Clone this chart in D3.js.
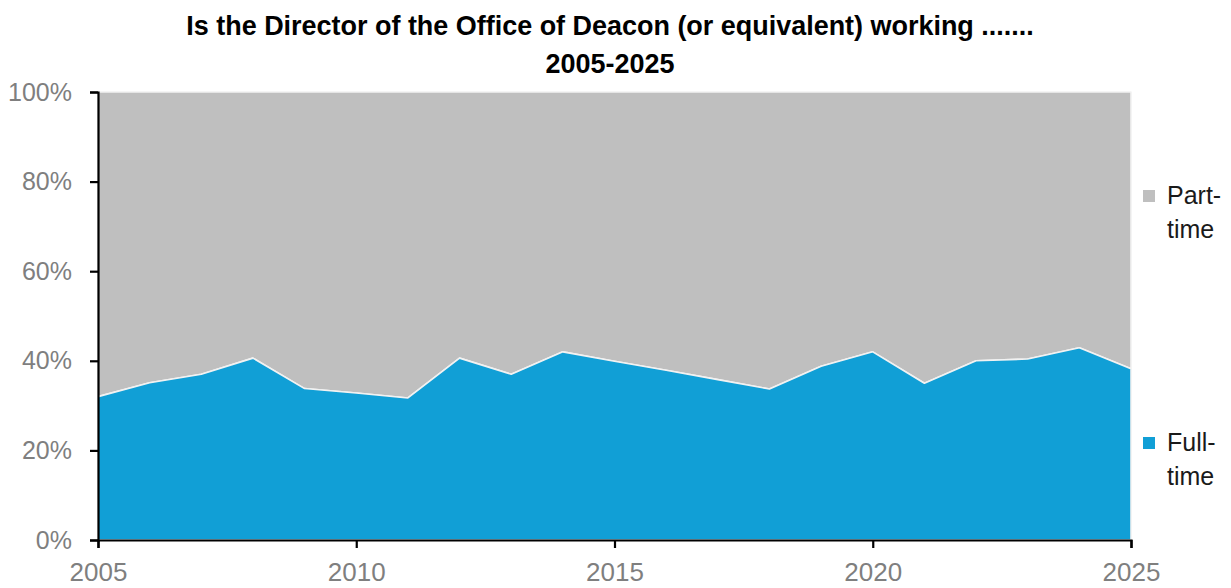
<!DOCTYPE html>
<html>
<head>
<meta charset="utf-8">
<script src="https://cdn.jsdelivr.net/npm/d3@7"></script>
<style>
  html, body { margin: 0; padding: 0; background: #ffffff; }
  svg { display: block; }
</style>
</head>
<body>
<svg id="chart" width="1231" height="588"></svg>
<script>
// Survey years and share of Directors working full-time (%)
const years = [2005, 2006, 2007, 2008, 2009, 2010, 2011, 2012, 2013, 2014, 2015,
               2016, 2017, 2018, 2019, 2020, 2021, 2022, 2023, 2024, 2025];
const fullTime = [32.0, 35.1, 37.0, 40.6, 33.8, 32.8, 31.7, 40.6, 37.0, 42.0, 39.9,
                  37.9, 35.8, 33.7, 38.8, 42.0, 35.0, 40.0, 40.4, 42.9, 38.2];
const partTime = fullTime.map(v => 100 - v);
const seriesNames = ["Full-time", "Part-time"];
const seriesColors = ["#119fd6", "#bfbfbf"];
const yTicks = [0, 20, 40, 60, 80, 100];
const xTicks = [2005, 2010, 2015, 2020, 2025];
const titleLines = ["Is the Director of the Office of Deacon (or equivalent) working .......", "2005-2025"];

const svg = d3.select("#chart");
const margin = { left: 98, right: 100, top: 92, bottom: 48 };
const W = 1231, H = 588;

const x = d3.scaleLinear().domain([2005, 2025]).range([margin.left, W - margin.right]);
const y = d3.scaleLinear().domain([0, 100]).range([H - margin.bottom, margin.top]);

// stack the two series so they fill to 100%
const rows = years.map((yr, i) => ({ year: yr, "Full-time": fullTime[i], "Part-time": partTime[i] }));
const stacked = d3.stack().keys(seriesNames)(rows);

const area = d3.area()
  .x(d => x(d.data.year))
  .y0(d => y(d[0]))
  .y1(d => y(d[1]));

const layers = svg.append("g");
// part-time drawn first (behind), full-time on top, both with a light edge
layers.selectAll("path")
  .data(stacked.slice().reverse())
  .join("path")
  .attr("d", area)
  .attr("fill", (d) => seriesColors[seriesNames.indexOf(d.key)])
  .attr("stroke", "#f2f2f2")
  .attr("stroke-width", 1.6)
  .attr("stroke-linejoin", "round");

// axes
const font = "'Liberation Sans', Arial, sans-serif";
const yAxis = svg.append("g")
  .attr("transform", `translate(${margin.left},0)`)
  .call(d3.axisLeft(y).tickValues(yTicks).tickFormat(d => d + "%").tickSize(8).tickPadding(18));
yAxis.select(".domain").attr("stroke", "#000").attr("stroke-width", 2.2);
yAxis.selectAll(".tick line").attr("stroke", "#000").attr("stroke-width", 2.2);
yAxis.selectAll(".tick text")
  .attr("fill", "#7f7f7f").style("font-family", font).style("font-size", "25px");

const xAxis = svg.append("g")
  .attr("transform", `translate(0,${H - margin.bottom})`)
  .call(d3.axisBottom(x).tickValues(xTicks).tickFormat(d3.format("d")).tickSize(8).tickPadding(15));
xAxis.select(".domain").attr("stroke", "#000").attr("stroke-width", 2.2);
xAxis.selectAll(".tick line").attr("stroke", "#000").attr("stroke-width", 2.2);
xAxis.selectAll(".tick text")
  .attr("fill", "#7f7f7f").style("font-family", font).style("font-size", "26px");

// title: bold, horizontally condensed to the target width
const titleCenter = 610;
const title = svg.append("g");
const titleText = title.selectAll("text")
  .data(titleLines)
  .join("text")
  .attr("x", 0)
  .attr("y", (d, i) => 35 + i * 38)
  .attr("text-anchor", "middle")
  .style("font-family", "'Liberation Sans', Arial, sans-serif")
  .style("font-weight", "bold")
  .style("font-size", "28px")
  .attr("fill", "#000")
  .text(d => d);
const naturalWidth = titleText.node().getComputedTextLength();
const squeeze = 848 / naturalWidth;
title.attr("transform", `translate(${titleCenter},0) scale(${squeeze},1)`);

// legend
const legendItems = [
  { key: "Part-time", lines: ["Part-", "time"], y: 204 },
  { key: "Full-time", lines: ["Full-", "time"], y: 451 }
];
const legend = svg.append("g");
legendItems.forEach(item => {
  legend.append("rect")
    .attr("x", 1143).attr("y", item.y - 14)
    .attr("width", 12).attr("height", 12)
    .attr("fill", seriesColors[seriesNames.indexOf(item.key)]);
  legend.append("text")
    .attr("x", 1167).attr("y", item.y)
    .style("font-family", font).style("font-size", "25px")
    .attr("fill", "#1a1a1a")
    .selectAll("tspan")
    .data(item.lines)
    .join("tspan")
    .attr("x", 1167)
    .attr("dy", (d, i) => i === 0 ? 0 : 34)
    .text(d => d);
});
</script>
</body>
</html>
